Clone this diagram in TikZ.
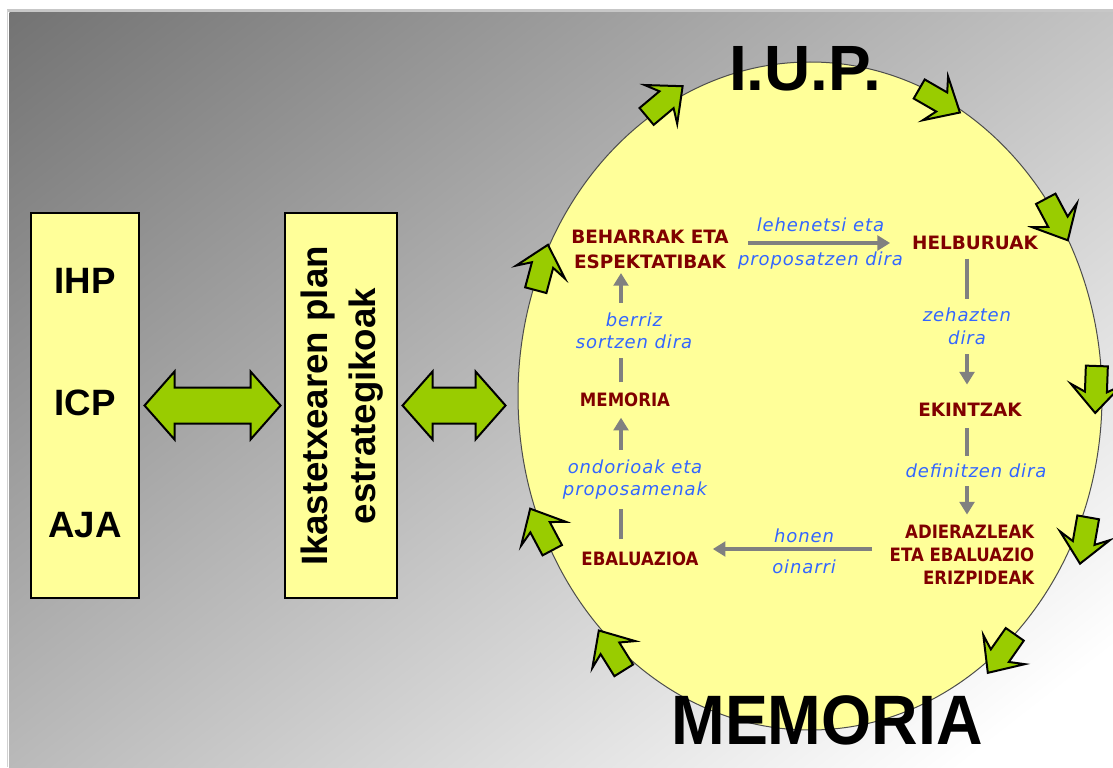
\documentclass[tikz,border=0pt]{standalone}
\usepackage{fontspec}
\setmainfont{Liberation Sans}
\newfontfamily\stagefont{DejaVu Sans}
\newfontfamily\whyfont[LetterSpace=5]{DejaVu Sans}
\usetikzlibrary{shapes.geometric,arrows.meta,calc}

\definecolor{bgdark}{HTML}{737373}
\definecolor{paleyellow}{HTML}{FFFF99}
\definecolor{arrowgreen}{HTML}{99CC00}
\definecolor{darkred}{HTML}{800000}
\definecolor{labelblue}{HTML}{3366FF}
\definecolor{flowgray}{HTML}{808080}

\tikzset{
  plainbox/.style={draw=black, line width=0.8pt, fill=paleyellow, minimum width=81pt, minimum height=288.75pt, inner sep=0pt},
  boxtext/.style={font=\bfseries\fontsize{27.5}{36}\selectfont},
  bigarrow/.style={draw=black, line width=1.5pt, fill=arrowgreen, line join=miter},
  cyclearrow/.style={draw=black, line width=1.5pt, fill=arrowgreen, line join=miter},
  stage/.style={text=darkred, font=\stagefont\bfseries\fontsize{13.8}{18.75}\selectfont, align=center},
  substage/.style={text=darkred, font=\stagefont\bfseries\fontsize{13.8}{17.25}\selectfont, align=center, xscale=0.9},
  why/.style={text=labelblue, font=\whyfont\itshape\fontsize{13.5}{17}\selectfont, align=center},
  flow/.style={draw=flowgray, line width=3.5pt, -{Triangle[width=11pt,length=9.5pt]}},
}

\begin{document}
\begin{tikzpicture}[x=0.75pt, y=-0.75pt]
\useasboundingbox (0,0) rectangle (1113,767);

% background
\begin{scope}
\clip (9,13) rectangle (1113,767);
\fill[white] (9,13) rectangle (1113,767);
\begin{scope}[transform canvas={rotate around={-52:(9,13)}}]
\shade[left color=bgdark, right color=white] (9,-950) rectangle (1189,600);
\end{scope}
\end{scope}
\draw[black!22, line width=2.25pt] (7,10.5) -- (1113,10.5);
\draw[black!18, line width=1.2pt] (7.5,10.5) -- (7.5,767);

% left boxes
\node[plainbox] (plans) at (85,405.5) {};
\node[boxtext] (ihp) at (85,281) {IHP};
\node[boxtext] (icp) at (85,403) {ICP};
\node[boxtext] (aja) at (85,525) {AJA};
\node[plainbox, minimum width=84pt] (strat) at (341,405.5) {};
\node[boxtext, rotate=90, align=center] (strattext) at (342,406) {Ikastetxearen plan\\estrategikoak};

% the I.U.P. cycle
\node[draw=black!70, line width=0.75pt, fill=paleyellow, ellipse, minimum width=438pt, minimum height=501pt, inner sep=0pt] (iup) at (810,396) {};

% double arrows between the boxes
\draw[bigarrow] ([xshift=3.75pt]plans.east) -- ++(30,-34) -- ++(0,16) -- ++(76,0) -- ++(0,-16) -- ++(30,34)
  -- ++(-30,34) -- ++(0,-16) -- ++(-76,0) -- ++(0,16) -- cycle;
\draw[bigarrow] ([xshift=3.75pt]strat.east) -- ++(30,-34) -- ++(0,16) -- ++(43,0) -- ++(0,-16) -- ++(30,34)
  -- ++(-30,34) -- ++(0,-16) -- ++(-43,0) -- ++(0,16) -- cycle;

% arrows round the ellipse
\foreach \x/\y/\a in {665/101/40, 940/101/-30, 1057/220/-62, 1096/390/-92, 1084/541/-100,
                      1001/654/-125, 611/650/122, 541/529/118, 542/267/75}
  \draw[cyclearrow, shift={(\x,\y)}, rotate=\a] (-18pt,-8.25pt) -- (1.5pt,-8.25pt) -- (-4pt,-19pt)
    -- (17.25pt,0pt) -- (-4pt,19pt) -- (1.5pt,8.25pt) -- (-18pt,8.25pt) -- cycle;

\node[font=\bfseries\fontsize{48}{52}\selectfont] (title) at (805,69) {I.U.P.};
\node[font=\bfseries\fontsize{52.5}{56}\selectfont, xscale=0.92] (memtitle) at (827,720) {MEMORIA};

% stages
\node[stage] (needs) at (650,249) {BEHARRAK ETA\\ESPEKTATIBAK};
\node[stage] (goals) at (975,243) {HELBURUAK};
\node[stage] (acts) at (970,410) {EKINTZAK};
\node[substage, align=right] (crit) at (962,555) {ADIERAZLEAK\\ETA EBALUAZIO\\ERIZPIDEAK};
\node[substage] (eval) at (640,559) {EBALUAZIOA};
\node[substage] (mem) at (625,400) {MEMORIA};

\coordinate (rcol) at (967,0);
\coordinate (lcol) at (621,0);

% flows
\path[flow, shorten <=11pt, shorten >=13pt] (needs.east |- goals.west) -- node[why, yshift=13.5pt]{lehenetsi eta}
  node[why, yshift=-13pt]{proposatzen dira} (goals.west);
\path[flow, shorten <=3pt, shorten >=10.5pt] (goals.south -| rcol) -- node[why, fill=paleyellow, inner sep=7pt]{zehazten\\dira} (acts.north -| rcol);
\path[flow, shorten <=5pt, shorten >=4.5pt] (acts.south -| rcol) -- node[why, fill=paleyellow, inner sep=6pt, xshift=6.75pt]{definitzen dira} (crit.north -| rcol);
\path[flow, shorten <=10pt, shorten >=7.5pt] ([yshift=4.5pt]crit.west) -- node[why, yshift=9.75pt, xshift=7.5pt]{honen}
  node[why, yshift=-13pt, xshift=7.5pt]{oinarri} ([yshift=7.5pt]eval.east);
\path[flow, shorten <=6pt, shorten >=4.5pt] (eval.north -| lcol) -- node[why, fill=paleyellow, inner sep=7pt, xshift=10.5pt]{ondorioak eta\\proposamenak} (mem.south -| lcol);
\path[flow, shorten <=4.5pt] (mem.north -| lcol) -- node[why, fill=paleyellow, inner sep=7pt, xshift=9.75pt]{berriz\\sortzen dira} (needs.south -| lcol);
\end{tikzpicture}
\end{document}
